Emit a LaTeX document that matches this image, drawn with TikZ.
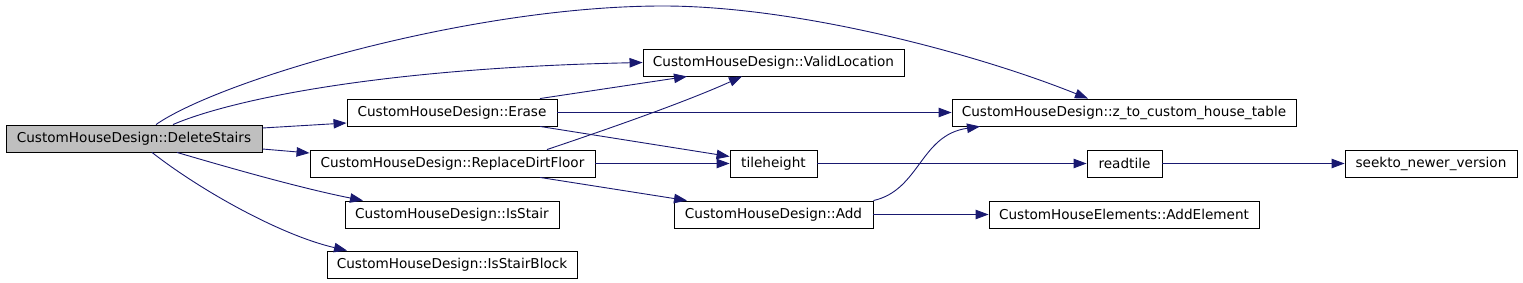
\documentclass[tikz,border=0pt]{standalone}
\usepackage{fontspec}
\setmainfont{DejaVu Sans}
\usetikzlibrary{arrows.meta}
\definecolor{edgeblue}{HTML}{191970}
\definecolor{curgray}{HTML}{BFBFBF}
\begin{document}
\begin{tikzpicture}[x=1pt,y=-1pt,
  fn/.style={draw=black,line width=0.9pt,inner sep=0pt,minimum height=27pt,
    font=\fontsize{13.6}{16}\selectfont,text=black,anchor=center},
  cur/.style={fn,fill=curgray},
  call/.style={draw=edgeblue,line width=0.9pt,-{Triangle[length=13pt,width=9.5pt]},color=edgeblue}]
\useasboundingbox (0,0) rectangle (1523,283);
\node[cur,minimum width=256pt] (DS) at (134,138.5) {CustomHouseDesign::DeleteStairs};
\node[fn,minimum width=210pt] (ER) at (452,112.5) {CustomHouseDesign::Erase};
\node[fn,minimum width=285pt] (RD) at (452.5,163.5) {CustomHouseDesign::ReplaceDirtFloor};
\node[fn,minimum width=214pt] (IS) at (452,214.5) {CustomHouseDesign::IsStair};
\node[fn,minimum width=250pt] (ISB) at (452,264.5) {CustomHouseDesign::IsStairBlock};
\node[fn,minimum width=261pt] (VL) at (773.5,62.5) {CustomHouseDesign::ValidLocation};
\node[fn,minimum width=87pt] (TH) at (773.5,163.5) {tileheight};
\node[fn,minimum width=199pt] (AD) at (773.5,214.5) {CustomHouseDesign::Add};
\node[fn,minimum width=344pt] (ZT) at (1124,112.5) {CustomHouseDesign::z\_to\_custom\_house\_table};
\node[fn,minimum width=270pt] (AE) at (1124,214.5) {CustomHouseElements::AddElement};
\node[fn,minimum width=75pt] (RT) at (1124.5,163.5) {readtile};
\node[fn,minimum width=172pt] (SK) at (1431,163.5) {seekto\_newer\_version};

\draw[call] ([xshift=22pt]DS.north) .. controls (220,80) and (470,6) .. (663,6)
  .. controls (800,6) and (980,55) .. ([xshift=-36pt]ZT.north);
\draw[call] ([xshift=39pt]DS.north) .. controls (230,100) and (380,68) .. (VL.west);
\draw[call] ([yshift=10.5pt]DS.east) -- ([yshift=-10.5pt]ER.west);
\draw[call] ([yshift=-10.5pt]DS.east) -- ([yshift=10.5pt]RD.west);
\draw[call] ([xshift=43pt]DS.south) .. controls (230,168) and (300,188) .. ([xshift=-89pt]IS.north);
\draw[call] ([xshift=18pt]DS.south) .. controls (200,190) and (280,235) .. ([xshift=-105pt]ISB.north);
\draw[call] ([xshift=88pt]ER.north) -- ([xshift=-86.5pt]VL.south);
\draw[call] (ER.east) -- (ZT.west);
\draw[call] ([xshift=88pt]ER.south) -- ([yshift=7pt]TH.west);
\draw[call] ([xshift=94.5pt]RD.north) .. controls (620,125) and (690,100) .. ([xshift=-31.5pt]VL.south);
\draw[call] (RD.east) -- (TH.west);
\draw[call] ([xshift=87.5pt]RD.south) -- ([xshift=-86.5pt]AD.north);
\draw[call] (AD.north east) .. controls (920,190) and (920,135) .. ([xshift=-144pt]ZT.south);
\draw[call] (AD.east) -- (AE.west);
\draw[call] (TH.east) -- (RT.west);
\draw[call] (RT.east) -- (SK.west);
\end{tikzpicture}
\end{document}
